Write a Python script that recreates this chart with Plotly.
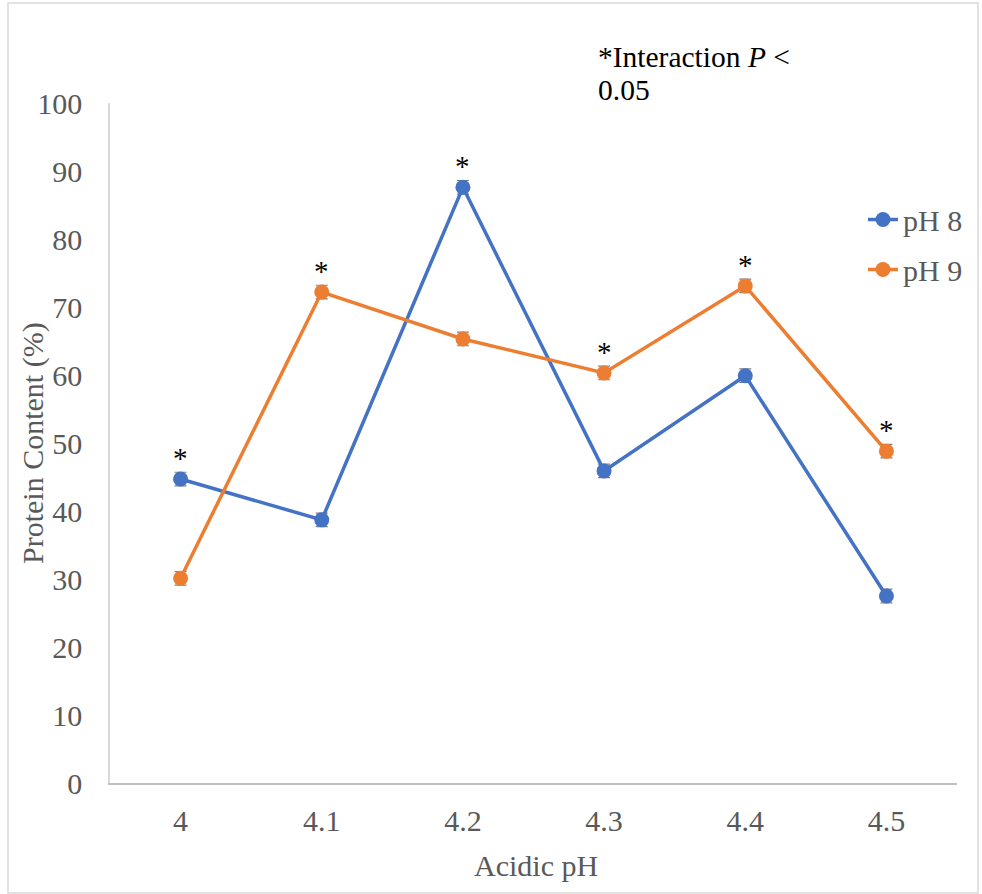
import plotly.graph_objects as go

categories = ["4", "4.1", "4.2", "4.3", "4.4", "4.5"]
ph8 = [44.7, 38.7, 87.6, 45.9, 59.9, 27.5]
ph9 = [30.1, 72.2, 65.3, 60.3, 73.1, 48.8]
ph8_err = [1.0, 1.0, 1.0, 1.0, 1.0, 1.0]
ph9_err = [1.0, 1.0, 1.0, 1.0, 1.0, 1.0]
star_on = ["pH 8", "pH 9", "pH 8", "pH 9", "pH 9", "pH 9"]
note_lines = ["*Interaction <i>P</i> &lt;", "0.05"]

FONT = "Liberation Serif"
GRAY = "#595959"
BLUE = "#4472C4"
ORANGE = "#ED7D31"
FS = 30
PW, PH = 847, 680  # plot area size in px
L, T = 110, 103

def px(xp):
    return (xp - L) / PW

def py(yp):
    return 1 - (yp - T) / PH

fig = go.Figure()
for name, vals, err, col, grp in [("pH 8", ph8, ph8_err, BLUE, "a"), ("pH 9", ph9, ph9_err, ORANGE, "b")]:
    fig.add_trace(go.Scatter(
        x=categories, y=vals, name=name, mode="lines+markers",
        line=dict(color=col, width=3.5),
        marker=dict(color=col, size=15),
        error_y=dict(type="data", array=err, color="#7f7f7f", thickness=1.2, width=6),
        legendgroup=grp,
    ))

series = {"pH 8": ph8, "pH 9": ph9}
for i, s in enumerate(star_on):
    fig.add_annotation(x=i, y=series[s][i], text="*", showarrow=False,
                       yshift=21, font=dict(family=FONT, size=29, color="black"))

for line, yc in zip(note_lines, [57, 90]):
    fig.add_annotation(xref="paper", yref="paper", x=px(596), y=py(yc),
                       xanchor="left", yanchor="middle", align="left", showarrow=False,
                       text=line, font=dict(family=FONT, size=29.5, color="black"))

# axis titles
fig.add_annotation(xref="paper", yref="paper", x=px(33), y=py(443), textangle=-90,
                   xanchor="center", yanchor="middle", showarrow=False,
                   text="Protein Content (%)", font=dict(family=FONT, size=FS, color=GRAY))
fig.add_annotation(xref="paper", yref="paper", x=px(536), y=py(865),
                   xanchor="center", yanchor="middle", showarrow=False,
                   text="Acidic pH", font=dict(family=FONT, size=FS, color=GRAY))

# outer chart border
fig.add_shape(type="rect", xref="paper", yref="paper",
              x0=px(8), x1=px(978), y0=py(893), y1=py(3),
              line=dict(color="#d9d9d9", width=1.5))

fig.update_layout(
    width=982, height=894,
    margin=dict(l=L, r=982 - L - PW, t=T, b=894 - T - PH, autoexpand=False),
    paper_bgcolor="white", plot_bgcolor="white",
    font=dict(family=FONT, size=FS, color=GRAY),
    showlegend=True,
    legend=dict(x=0.889, y=0.867, xanchor="left", yanchor="top",
                font=dict(family=FONT, size=FS, color=GRAY),
                tracegroupgap=8, bgcolor="rgba(0,0,0,0)"),
    xaxis=dict(type="category", range=[-0.5, 5.5], showline=True, linecolor="#bfbfbf", linewidth=1.5,
               showgrid=False, ticks="", tickfont=dict(family=FONT, size=FS, color=GRAY),
               ticklabelstandoff=10, automargin=False),
    yaxis=dict(range=[0, 100], dtick=10, showline=True, linecolor="#d9d9d9", linewidth=1.5,
               showgrid=False, zeroline=False, ticks="", tickfont=dict(family=FONT, size=FS, color=GRAY),
               ticklabelstandoff=20, automargin=False),
)

fig.write_html("out.html", config={"displayModeBar": False},
               post_script="document.body.style.margin='0px';")
